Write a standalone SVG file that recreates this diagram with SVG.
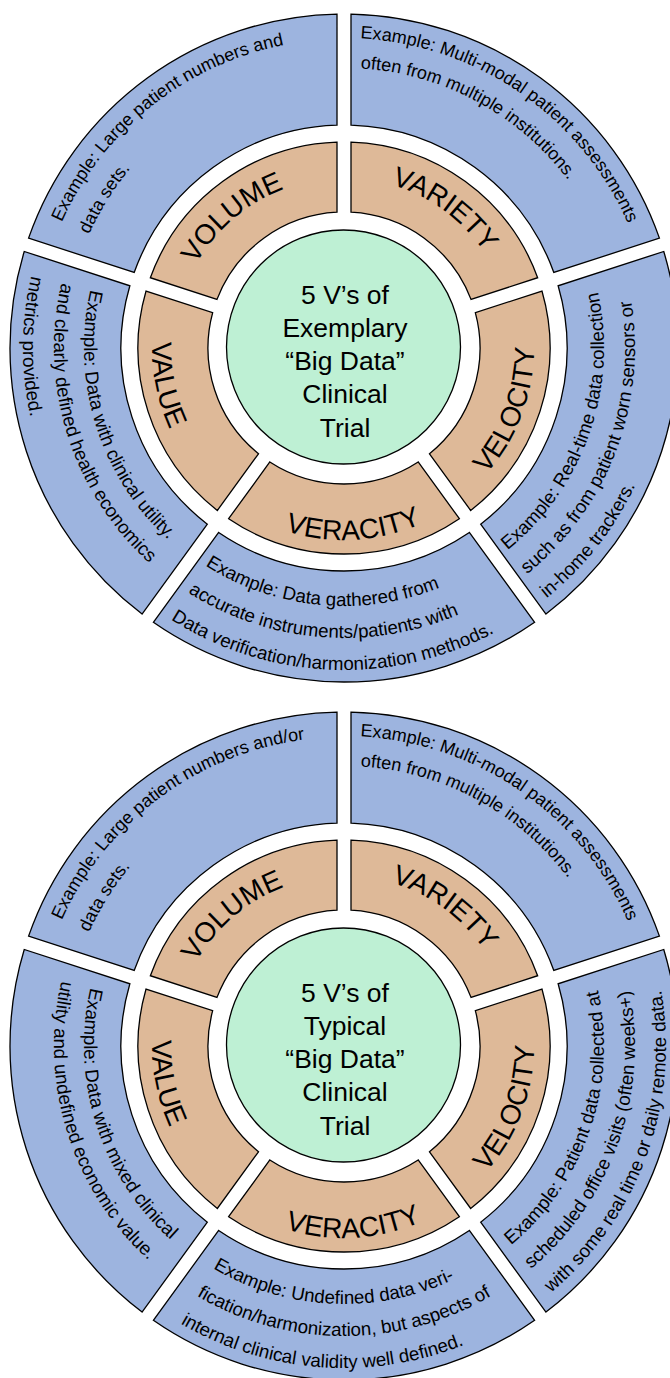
<svg xmlns="http://www.w3.org/2000/svg" xmlns:xlink="http://www.w3.org/1999/xlink" width="670" height="1378" viewBox="0 0 670 1378">
<style>
.blue{fill:#9db4df;stroke:#000;stroke-width:1.3}
.tan{fill:#deb998;stroke:#000;stroke-width:1.3}
.green{fill:#bef0d4;stroke:#000;stroke-width:1.3}
text{font-family:"Liberation Sans",Arial,sans-serif;fill:#000}
.lbl{font-size:28px;text-anchor:middle}
.ex{font-size:18px}
.ec{font-size:18.7px}
.ctr{font-size:26.5px;text-anchor:middle}
</style>
<defs>
<path id="lVOL" d="M -169.99,1.78 A 170 170 0 0 1 27.77,-167.72"/>
<path id="lVAR" d="M -41.13,-164.95 A 170 170 0 0 1 169.59,-11.86"/>
<path id="lVEL" d="M 62.80,179.32 A 190 190 0 0 0 165.69,-92.98"/>
<path id="lVER" d="M -140.42,130.94 A 192 192 0 0 0 153.34,115.55"/>
<path id="lVAL" d="M -150.68,-119.00 A 192 192 0 0 0 -91.03,169.05"/>
<path id="vo1" d="M -282.29,-125.68 A 309 309 0 0 1 125.68,-282.29"/>
<path id="vo2" d="M -254.88,-113.48 A 279 279 0 0 1 113.48,-254.88"/>
<path id="va1" d="M 16.22,-309.58 A 310 310 0 0 1 309.58,16.22"/>
<path id="va2" d="M 16.61,-279.51 A 280 280 0 0 1 279.51,16.61"/>
<path id="ve1t" d="M 163.62,202.06 A 260 260 0 0 0 170.58,-196.22"/>
<path id="ve2t" d="M 183.13,226.15 A 291 291 0 0 0 190.91,-219.62"/>
<path id="ve3t" d="M 202.64,250.24 A 322 322 0 0 0 211.25,-243.02"/>
<path id="ve1b" d="M 167.13,199.17 A 260 260 0 0 0 167.13,-199.17"/>
<path id="ve2b" d="M 187.05,222.92 A 291 291 0 0 0 187.05,-222.92"/>
<path id="ve3b" d="M 206.98,246.66 A 322 322 0 0 0 206.98,-246.66"/>
<path id="vr1t" d="M -138.62,217.59 A 258 258 0 0 0 238.36,98.73"/>
<path id="vr2t" d="M -155.82,244.58 A 290 290 0 0 0 267.93,110.98"/>
<path id="vr3t" d="M -173.01,271.57 A 322 322 0 0 0 297.49,123.22"/>
<path id="vr1b" d="M -130.95,222.30 A 258 258 0 0 0 241.66,90.35"/>
<path id="vr2b" d="M -147.19,249.87 A 290 290 0 0 0 271.63,101.56"/>
<path id="vr3b" d="M -163.43,277.44 A 322 322 0 0 0 301.61,112.77"/>
<path id="vl1" d="M -253.34,-58.49 A 260 260 0 0 0 -13.61,259.64"/>
<path id="vl2" d="M -282.57,-65.24 A 290 290 0 0 0 -15.18,289.60"/>
<path id="vl3" d="M -312.77,-72.21 A 321 321 0 0 0 -16.80,320.56"/>
</defs>
<rect width="670" height="1378" fill="#fff"/>

<g id="exemplary" transform="translate(344,348)">
  <g id="ex-center">
    <circle class="green" cx="-0.5" cy="-1" r="117"/>
    <text class="ctr" x="1" y="-44">5 V’s of</text>
    <text class="ctr" x="1" y="-11">Exemplary</text>
    <text class="ctr" x="1" y="21.5">“Big Data”</text>
    <text class="ctr" x="1" y="55">Clinical</text>
    <text class="ctr" x="1" y="88.5">Trial</text>
  </g>
  <g id="ex-volume">
    <path class="tan" d="M -193.64,-70.28 A 206 206 0 0 1 -7,-205.88 L -7,-135.82 A 136 136 0 0 0 -127.01,-48.63 Z"/>
    <text class="lbl"><textPath href="#lVOL" xlink:href="#lVOL" startOffset="50%">VOLUME</textPath></text>
  </g>
  <g id="ex-variety">
    <path class="tan" d="M 7,-205.88 A 206 206 0 0 1 193.64,-70.28 L 127.01,-48.63 A 136 136 0 0 0 7,-135.82 Z"/>
    <text class="lbl"><textPath href="#lVAR" xlink:href="#lVAR" startOffset="50%">VARIETY</textPath></text>
  </g>
  <g id="ex-velocity">
    <path class="tan" d="M 197.96,-56.96 A 206 206 0 0 1 126.67,162.45 L 85.49,105.77 A 136 136 0 0 0 131.33,-35.31 Z"/>
    <text class="lbl"><textPath href="#lVEL" xlink:href="#lVEL" startOffset="50%">VELOCITY</textPath></text>
  </g>
  <g id="ex-veracity">
    <path class="tan" d="M 115.35,170.68 A 206 206 0 0 1 -115.35,170.68 L -74.17,113.99 A 136 136 0 0 0 74.17,113.99 Z"/>
    <text class="lbl"><textPath href="#lVER" xlink:href="#lVER" startOffset="50%">VERACITY</textPath></text>
  </g>
  <g id="ex-value">
    <path class="tan" d="M -126.67,162.45 A 206 206 0 0 1 -197.96,-56.96 L -131.33,-35.31 A 136 136 0 0 0 -85.49,105.77 Z"/>
    <text class="lbl"><textPath href="#lVAL" xlink:href="#lVAL" startOffset="50%">VALUE</textPath></text>
  </g>
  <g id="ex-volume-example">
    <path class="blue" d="M -315.43,-109.85 A 334 334 0 0 1 -7,-333.93 L -7,-222.89 A 223 223 0 0 0 -209.82,-75.54 Z"/>
    <text class="ex"><textPath href="#vo1" xlink:href="#vo1">Example: Large patient numbers and</textPath></text>
    <text class="ex"><textPath href="#vo2" xlink:href="#vo2">data sets.</textPath></text>
  </g>
  <g id="ex-variety-example">
    <path class="blue" d="M 7,-333.93 A 334 334 0 0 1 315.43,-109.85 L 209.82,-75.54 A 223 223 0 0 0 7,-222.89 Z"/>
    <text class="ex"><textPath href="#va1" xlink:href="#va1">Example: Multi-modal patient assessments</textPath></text>
    <text class="ex"><textPath href="#va2" xlink:href="#va2">often from multiple institutions.</textPath></text>
  </g>
  <g id="ex-velocity-example">
    <path class="blue" d="M 319.75,-96.53 A 334 334 0 0 1 201.94,266.05 L 136.67,176.21 A 223 223 0 0 0 214.14,-62.22 Z"/>
    <text class="ec"><textPath href="#ve1t" xlink:href="#ve1t">Example: Real-time data collection</textPath></text>
    <text class="ec"><textPath href="#ve2t" xlink:href="#ve2t">such as from patient worn sensors or</textPath></text>
    <text class="ec"><textPath href="#ve3t" xlink:href="#ve3t">in-home trackers.</textPath></text>
  </g>
  <g id="ex-veracity-example">
    <path class="blue" d="M 190.62,274.28 A 334 334 0 0 1 -190.62,274.28 L -125.35,184.44 A 223 223 0 0 0 125.35,184.44 Z"/>
    <text class="ec"><textPath href="#vr1t" xlink:href="#vr1t">Example: Data gathered from</textPath></text>
    <text class="ec"><textPath href="#vr2t" xlink:href="#vr2t">accurate instruments/patients with</textPath></text>
    <text class="ec"><textPath href="#vr3t" xlink:href="#vr3t">Data verification/harmonization methods.</textPath></text>
  </g>
  <g id="ex-value-example">
    <path class="blue" d="M -201.94,266.05 A 334 334 0 0 1 -319.75,-96.53 L -214.14,-62.22 A 223 223 0 0 0 -136.67,176.21 Z"/>
    <text class="ec"><textPath href="#vl1" xlink:href="#vl1">Example: Data with clinical utility.</textPath></text>
    <text class="ec"><textPath href="#vl2" xlink:href="#vl2">and clearly defined health economics</textPath></text>
    <text class="ec"><textPath href="#vl3" xlink:href="#vl3">metrics provided.</textPath></text>
  </g>
</g>

<g id="typical" transform="translate(344,1046)">
  <g id="ty-center">
    <circle class="green" cx="-0.5" cy="-1" r="117"/>
    <text class="ctr" x="1" y="-44">5 V’s of</text>
    <text class="ctr" x="1" y="-11">Typical</text>
    <text class="ctr" x="1" y="21.5">“Big Data”</text>
    <text class="ctr" x="1" y="55">Clinical</text>
    <text class="ctr" x="1" y="88.5">Trial</text>
  </g>
  <g id="ty-volume">
    <path class="tan" d="M -193.64,-70.28 A 206 206 0 0 1 -7,-205.88 L -7,-135.82 A 136 136 0 0 0 -127.01,-48.63 Z"/>
    <text class="lbl"><textPath href="#lVOL" xlink:href="#lVOL" startOffset="50%">VOLUME</textPath></text>
  </g>
  <g id="ty-variety">
    <path class="tan" d="M 7,-205.88 A 206 206 0 0 1 193.64,-70.28 L 127.01,-48.63 A 136 136 0 0 0 7,-135.82 Z"/>
    <text class="lbl"><textPath href="#lVAR" xlink:href="#lVAR" startOffset="50%">VARIETY</textPath></text>
  </g>
  <g id="ty-velocity">
    <path class="tan" d="M 197.96,-56.96 A 206 206 0 0 1 126.67,162.45 L 85.49,105.77 A 136 136 0 0 0 131.33,-35.31 Z"/>
    <text class="lbl"><textPath href="#lVEL" xlink:href="#lVEL" startOffset="50%">VELOCITY</textPath></text>
  </g>
  <g id="ty-veracity">
    <path class="tan" d="M 115.35,170.68 A 206 206 0 0 1 -115.35,170.68 L -74.17,113.99 A 136 136 0 0 0 74.17,113.99 Z"/>
    <text class="lbl"><textPath href="#lVER" xlink:href="#lVER" startOffset="50%">VERACITY</textPath></text>
  </g>
  <g id="ty-value">
    <path class="tan" d="M -126.67,162.45 A 206 206 0 0 1 -197.96,-56.96 L -131.33,-35.31 A 136 136 0 0 0 -85.49,105.77 Z"/>
    <text class="lbl"><textPath href="#lVAL" xlink:href="#lVAL" startOffset="50%">VALUE</textPath></text>
  </g>
  <g id="ty-volume-example">
    <path class="blue" d="M -315.43,-109.85 A 334 334 0 0 1 -7,-333.93 L -7,-222.89 A 223 223 0 0 0 -209.82,-75.54 Z"/>
    <text class="ex"><textPath href="#vo1" xlink:href="#vo1">Example: Large patient numbers and/or</textPath></text>
    <text class="ex"><textPath href="#vo2" xlink:href="#vo2">data sets.</textPath></text>
  </g>
  <g id="ty-variety-example">
    <path class="blue" d="M 7,-333.93 A 334 334 0 0 1 315.43,-109.85 L 209.82,-75.54 A 223 223 0 0 0 7,-222.89 Z"/>
    <text class="ex"><textPath href="#va1" xlink:href="#va1">Example: Multi-modal patient assessments</textPath></text>
    <text class="ex"><textPath href="#va2" xlink:href="#va2">often from multiple institutions.</textPath></text>
  </g>
  <g id="ty-velocity-example">
    <path class="blue" d="M 319.75,-96.53 A 334 334 0 0 1 201.94,266.05 L 136.67,176.21 A 223 223 0 0 0 214.14,-62.22 Z"/>
    <text class="ec"><textPath href="#ve1b" xlink:href="#ve1b">Example: Patient data collected at</textPath></text>
    <text class="ec"><textPath href="#ve2b" xlink:href="#ve2b">scheduled office visits (often weeks+)</textPath></text>
    <text class="ec"><textPath href="#ve3b" xlink:href="#ve3b">with some real time or daily remote data.</textPath></text>
  </g>
  <g id="ty-veracity-example">
    <path class="blue" d="M 190.62,274.28 A 334 334 0 0 1 -190.62,274.28 L -125.35,184.44 A 223 223 0 0 0 125.35,184.44 Z"/>
    <text class="ec"><textPath href="#vr1b" xlink:href="#vr1b">Example: Undefined data veri-</textPath></text>
    <text class="ec"><textPath href="#vr2b" xlink:href="#vr2b">fication/harmonization, but aspects of</textPath></text>
    <text class="ec"><textPath href="#vr3b" xlink:href="#vr3b">internal clinical validity well defined.</textPath></text>
  </g>
  <g id="ty-value-example">
    <path class="blue" d="M -201.94,266.05 A 334 334 0 0 1 -319.75,-96.53 L -214.14,-62.22 A 223 223 0 0 0 -136.67,176.21 Z"/>
    <text class="ec"><textPath href="#vl1" xlink:href="#vl1">Example: Data with mixed clinical</textPath></text>
    <text class="ec"><textPath href="#vl2" xlink:href="#vl2">utility and undefined economic value.</textPath></text>
  </g>
</g>
<g id="connectors"/>
</svg>
